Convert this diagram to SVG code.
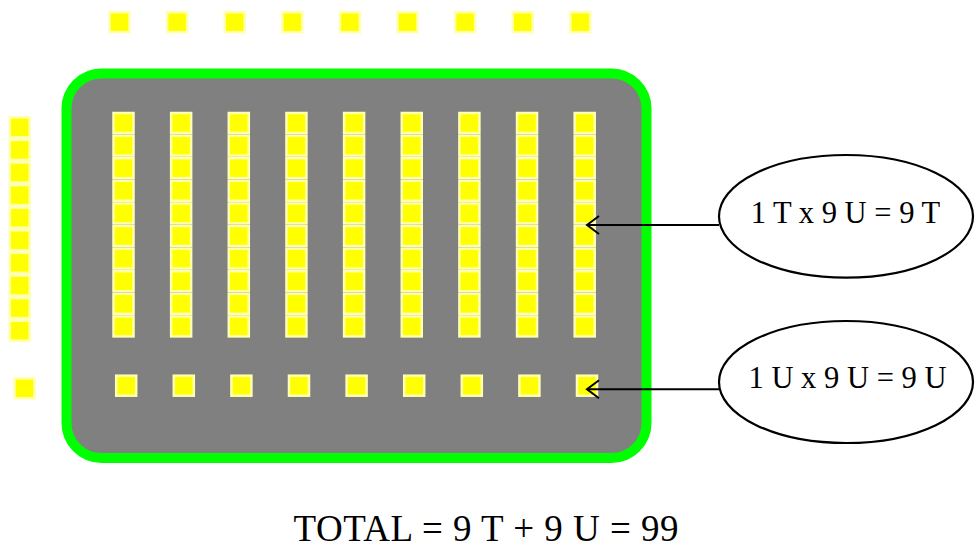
<svg xmlns="http://www.w3.org/2000/svg" xmlns:xlink="http://www.w3.org/1999/xlink" width="975" height="550" viewBox="0 0 975 550">
<style>
.sq{fill:#ffff00;stroke:#ffffb0;stroke-width:2.5}
.frame{fill:#808080;stroke:#00ff00;stroke-width:10}
.ell{fill:#ffffff;stroke:#000000;stroke-width:2.2}
.lbl{font-family:"Liberation Serif","Times New Roman",serif;font-size:31px;fill:#000000}
.total{font-family:"Liberation Serif","Times New Roman",serif;font-size:37px;fill:#000000}
.conn{stroke:#000000;stroke-width:2;fill:none}
</style>
<defs>
<rect id="sq" class="sq" x="-10" y="-10" width="20" height="20"/>
<g id="col">
<use xlink:href="#sq" y="0"/><use xlink:href="#sq" y="22.6"/><use xlink:href="#sq" y="45.2"/><use xlink:href="#sq" y="67.8"/><use xlink:href="#sq" y="90.4"/><use xlink:href="#sq" y="113"/><use xlink:href="#sq" y="135.6"/><use xlink:href="#sq" y="158.2"/><use xlink:href="#sq" y="180.8"/><use xlink:href="#sq" y="203.4"/>
</g>
<marker id="arr" markerUnits="userSpaceOnUse" markerWidth="30" markerHeight="30" refX="0" refY="0" orient="auto" overflow="visible">
<path d="M-12,-9 L0,0 L-12,9" fill="none" stroke="#000000" stroke-width="2"/>
</marker>
</defs>
<g id="top-units">
<use xlink:href="#sq" x="119.5" y="22.2"/><use xlink:href="#sq" x="177.1" y="22.2"/><use xlink:href="#sq" x="234.7" y="22.2"/><use xlink:href="#sq" x="292.3" y="22.2"/><use xlink:href="#sq" x="349.9" y="22.2"/><use xlink:href="#sq" x="407.5" y="22.2"/><use xlink:href="#sq" x="465.1" y="22.2"/><use xlink:href="#sq" x="522.7" y="22.2"/><use xlink:href="#sq" x="580.3" y="22.2"/>
</g>
<g id="left-ten">
<use xlink:href="#col" x="19.7" y="127.3"/>
</g>
<g id="left-unit">
<use xlink:href="#sq" x="24.5" y="388.3"/>
</g>
<g id="product">
<rect class="frame" x="66.5" y="73.5" width="580" height="384.5" rx="35" ry="35"/>
<g id="tens">
<use xlink:href="#col" x="123.5" y="123"/><use xlink:href="#col" x="181.15" y="123"/><use xlink:href="#col" x="238.8" y="123"/><use xlink:href="#col" x="296.45" y="123"/><use xlink:href="#col" x="354.1" y="123"/><use xlink:href="#col" x="411.75" y="123"/><use xlink:href="#col" x="469.4" y="123"/><use xlink:href="#col" x="527.05" y="123"/><use xlink:href="#col" x="584.7" y="123"/>
</g>
<g id="units">
<use xlink:href="#sq" x="126.2" y="385.7"/><use xlink:href="#sq" x="183.8" y="385.7"/><use xlink:href="#sq" x="241.4" y="385.7"/><use xlink:href="#sq" x="299" y="385.7"/><use xlink:href="#sq" x="356.6" y="385.7"/><use xlink:href="#sq" x="414.2" y="385.7"/><use xlink:href="#sq" x="471.8" y="385.7"/><use xlink:href="#sq" x="529.4" y="385.7"/><use xlink:href="#sq" x="587" y="385.7"/>
</g>
</g>
<g id="connectors">
<line class="conn" x1="719" y1="225" x2="587" y2="225" marker-end="url(#arr)"/>
<line class="conn" x1="719" y1="389.3" x2="587" y2="389.3" marker-end="url(#arr)"/>
</g>
<g id="label-tens">
<ellipse class="ell" cx="846" cy="216.3" rx="127" ry="61.3"/>
<text class="lbl" x="750.7" y="222.7" textLength="189.5" lengthAdjust="spacingAndGlyphs">1 T x 9 U = 9 T</text>
</g>
<g id="label-units">
<ellipse class="ell" cx="846" cy="382" rx="127" ry="61"/>
<text class="lbl" x="748.5" y="387.7" textLength="198" lengthAdjust="spacingAndGlyphs">1 U x 9 U = 9 U</text>
</g>
<g id="total">
<text class="total" x="293.5" y="541" textLength="385" lengthAdjust="spacing">TOTAL = 9 T + 9 U = 99</text>
</g>
</svg>
